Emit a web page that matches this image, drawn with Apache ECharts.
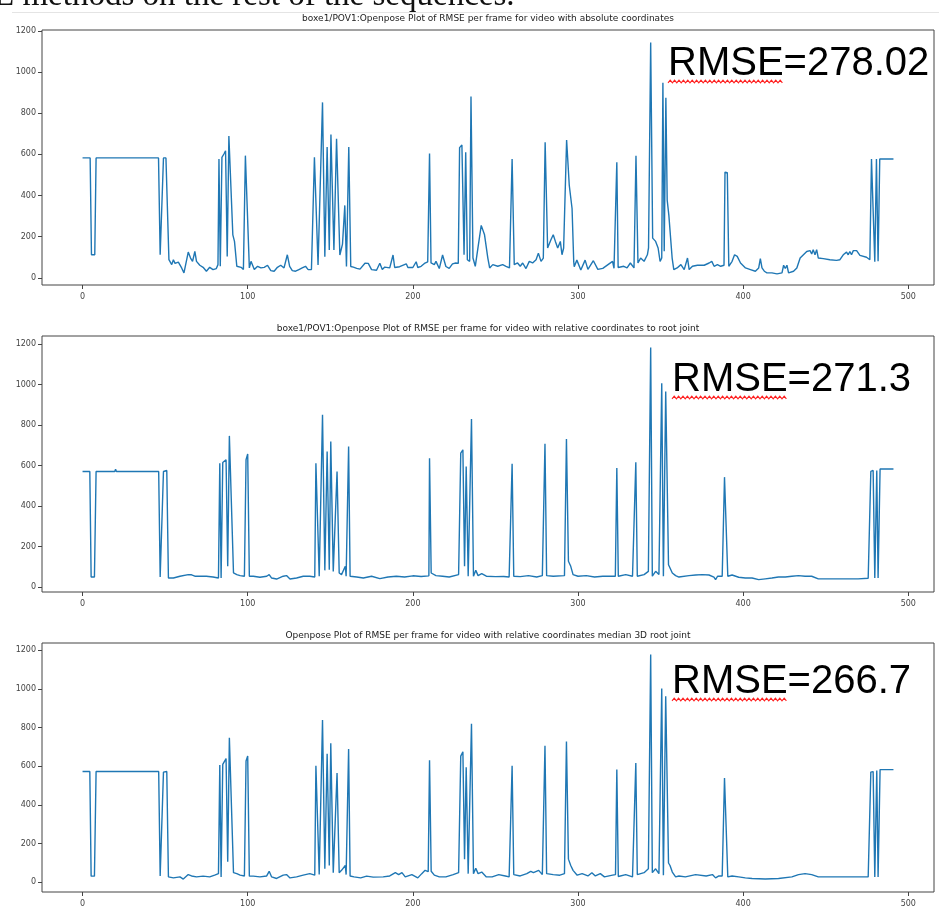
<!doctype html>
<html lang="en">
<head>
<meta charset="UTF-8">
<title>Openpose RMSE per frame</title>
<script src="https://cdn.jsdelivr.net/npm/echarts@6/dist/echarts.min.js"></script>
<style>
  html, body { margin: 0; padding: 0; background: #fff; }
  #main { width: 939px; height: 908px; }
</style>
</head>
<body>
<div id="main"></div>
<script>
// chart text
var titles = [
  'boxe1/POV1:Openpose Plot of RMSE per frame for video with absolute coordinates',
  'boxe1/POV1:Openpose Plot of RMSE per frame for video with relative coordinates to root joint',
  'Openpose Plot of RMSE per frame for video with relative coordinates median 3D root joint'
];
var rmseNotes = ['RMSE=278.02', 'RMSE=271.3', 'RMSE=266.7'];
var xTicks = [0, 100, 200, 300, 400, 500];
var yTicks = [0, 200, 400, 600, 800, 1000, 1200];

// [frame, rmse]
var absoluteRmse = [
  [0,583],[4.6,583],[5.4,112],[7.4,112],[8.2,583],[19,583],[20,587],[21,583],[46,583],[47,112],[48.2,112],[49,583],[50.5,583],[51.5,575],
  [52.3,88],[54,64],[55,88],[56,70],[58,76],[60,48],[61.4,24],[64,125],[65.4,96],[66.6,80],[68,128],[69,80],[71,61],[73,51],[75,32],[77,51],[79,40],[81,45],[82,64],
  [82.6,578],[83.4,56],[84.4,586],[85.6,602],[86.6,618],[87.6,104],[88.6,690],[89.8,688],[91,209],[92,177],[93.4,56],[94.6,48],[96,51],[97.4,40],[98.6,594],[99.8,602],
  [101,48],[102,80],[104,40],[106,56],[108,48],[110,51],[112,61],[114,35],[116,32],[118,51],[120,61],[122,48],[124,112],[125.4,56],[127,35],[129,32],[131,40],[133,48],[135,56],[136.6,40],[138.6,40],[139.6,48],
  [140.4,586],[141.6,590],[142.6,62],[143.4,60],[145.3,853],[146.7,103],[148.1,636],[149.4,135],[150.4,697],[152.2,135],[153.8,676],[155.8,111],[157.4,164],[158.8,352],[159.8,55],[161.2,636],[162.4,55],
  [164,52],[166,46],[168,42],[171,71],[173,70],[175,40],[178,37],[180,71],[181.5,40],[183,52],[186,48],[188,111],[189,50],[192,54],[196,68],[197,50],[200,50],[202,78],[203,50],[205,56],[207,70],[209,78],
  [210.1,604],[211,72],[213,64],[214,80],[216,45],[218,111],[220,55],[222,46],[224,68],[226,72],[227.5,70],[228.3,633],[229.7,646],[231,112],[232,610],[233,88],[234.4,80],[235.2,882],[236.4,96],[237.8,56],
  [239.5,150],[241.4,255],[243.4,209],[245.4,96],
  [246.5,48],[248.4,64],[251.4,56],[254.4,64],[256.4,56],[258.5,48],[259.4,50],[260.1,578],[261.4,64],[263.4,72],[265,56],[266.5,72],[268.5,45],[270.5,80],[272.5,72],[274.6,88],[276,120],[277.6,80],[279,96],
  [280.1,659],[281.6,145],[283.6,185],[285,209],[286.3,177],[287.7,145],[289.3,177],[290.3,112],[291.3,145],[292.3,137],[293.1,670],[294.7,450],[296.4,337],[297.4,80],
  [297.7,54],[299.3,86],[301.7,38],[304.3,86],[306,41],[309.3,83],[312,41],[315,46],[320.9,80],[321.8,46],[322.7,46],[323.5,562],[324.3,50],[325,48],[327.7,56],[329.7,48],[331.7,72],[333.9,48],[335.1,594],[336.3,72],
  [337.9,96],[340,80],[342,112],[342.7,145],[344,1144],[345.2,193],[347,177],[348.5,145],[349.7,80],[350.7,96],[351.4,948],[352.2,129],[353.2,875],[354,378],[355,305],[357,96],[358,40],
  [360,48],[362.3,64],[364.3,40],[366.3,96],[367.3,40],[369.3,56],[372.3,61],[376.4,61],[379.4,72],[381,80],[382.4,56],[384.4,64],[386.4,56],[388.4,61],[389,514],[390.4,511],[391.3,56],
  [393.3,80],[394.8,112],[396.4,104],[398.4,72],[401.4,48],[404.4,40],[407.4,32],[409.4,48],[410.4,93],[411.4,48],[412.8,32],[414.4,24],[417.4,24],[420.5,19],[423.5,24],[424.5,61],[425.5,45],[426.5,61],[427.5,24],
  [430.5,32],[432.5,48],[434.5,96],[436.5,112],[438.5,128],[440.5,132],[441.5,116],[442.4,137],[443.5,112],[444.5,137],[445.5,96],[448.5,93],[452.5,88],[456.5,85],[458.6,88],[460.6,112],[462.6,125],[463.6,112],
  [464.6,128],[465.6,112],[466.7,132],[468.7,132],[470.7,109],[474.7,100],[476.7,88],[477.7,578],[478.7,578],[479.7,78],[480.7,578],[481.7,80],[482.7,578],[491,578]
];

var relativeRmse = [
  [0,571],[4.4,571],[5.2,49],[7.2,49],[8.2,571],[19.5,571],[20,582],[20.5,571],[46.1,571],[47,49],[48,49],[49,571],[51,576],[52,44],[55,44],[59,53],[64,61],[66,60],[68,53],[71,53],[75,53],[79,49],[82.3,44],
  [83.1,612],[83.9,44],[84.9,615],[85.7,620],[86.9,629],[87.9,102],[88.9,747],[90.1,744],[91.4,69],[93.4,61],[95.4,56],[98,53],[99,629],[100,658],[101,53],[103.4,53],[107.4,48],[111.5,53],[113,61],[114.5,44],
  [117.5,39],[121.5,53],[123.5,56],[125.6,39],[129.6,44],[133.6,53],[137.6,53],[140.6,49],
  [141.3,612],[142.3,604],[143.3,53],[145.3,851],[146.7,82],[148.1,670],[149.4,85],[150.3,719],[151.8,77],[154.1,571],[155.4,69],[156.8,61],[159.1,102],[159.6,53],[161.1,695],[162,53],
  [166,49],[170,44],[175,53],[180,41],[185,49],[190,53],[195,49],[200,55],[205,52],[209.7,55],[210.1,637],[211.1,69],[214,56],[218,53],[222,49],[227.7,61],[228.4,58],[229,662],[230.3,678],[231.3,102],[232.3,596],[233.5,53],
  [235.5,830],[236.7,53],[238.1,82],[239.5,56],[241.7,66],[244.5,53],[250,51],[255,52],[258.3,49],[259.3,50],[260.1,609],[261.1,53],[265,51],[270,56],[275,49],[278.4,56],[279.2,55],[280,708],[281,56],[285,53],[291.8,56],
  [292.3,55],[293,731],[294.2,127],[295.6,102],[297,61],[300,53],[305,56],[310,49],[315,53],[320.7,53],[322.6,53],[323.5,588],[324.4,53],[325.5,53],[328.9,61],[333,53],[334.2,53],[335,617],[335.9,53],[336.6,53],
  [340,61],[342.6,77],[344,1184],[345,53],[347,77],[349,61],
  [350.7,1007],[351.7,53],[353.1,966],[354.8,110],[355.7,102],[357.1,69],[359.1,56],[361.1,49],[367.2,56],[371.2,59],[375.2,61],[379.3,59],[382.3,49],[383.3,36],[384.5,53],[387.3,53],[388,53],[388.7,543],[389.7,538],[390.7,53],
  [393.3,59],[397.3,48],[401.3,44],[405.4,44],[409.4,36],[413.4,40],[417.4,44],[421.4,49],[425.5,49],[429.5,53],[433.5,56],[437.5,53],[441.5,53],[445.5,40],[453.5,40],[461.6,40],[469.6,40],[475.7,43],[476.6,43],
  [477.3,571],[478.7,576],[479.7,44],[480.9,576],[481.7,44],[482.9,583],[491,583]
];

var medianRmse = [
  [0,573],[4.4,573],[5.2,32],[7.2,32],[8.2,573],[19.5,573],[20,582],[20.5,573],[46.1,573],[47,33],[48,33],[49,570],[51,573],[52,28],[55,23],[59,28],[61,17],[64,40],[66,33],[69,28],[73,32],[77,28],[80,37],[82.3,45],
  [83.1,607],[83.9,28],[84.9,610],[85.7,617],[86.9,640],[87.9,107],[88.9,748],[90.1,740],[91.4,50],[93.4,45],[95.4,37],[98,33],[99,628],[100,653],[101,32],[103.4,32],[107.4,28],[111.5,33],[113,57],[114.5,28],
  [117.5,20],[121.5,37],[123.5,40],[125.6,23],[129.6,28],[133.6,37],[137.6,45],[140.6,37],
  [141.3,603],[142.3,598],[143.3,40],[145.3,840],[146.7,70],[148.1,665],[149.4,87],[150.3,720],[151.8,50],[154.1,565],[155.4,50],[156.8,62],[159.1,87],[159.6,40],[161.1,690],[162,33],
  [164.4,28],[168.4,23],[172,32],[176,27],[182,28],[186,33],[189.4,50],[191.4,40],[193.4,50],[195.4,28],[199.4,40],[203,23],[205.4,45],[207.4,62],[209.3,55],[210.1,632],[211.1,57],[213,37],[216,28],[220,28],[224.4,40],[227.7,50],
  [228.3,50],[229,653],[230.3,675],[231.3,120],[232.3,595],[233.5,45],[235.5,820],[236.7,45],[238.1,73],[239.5,45],[241.7,53],[244.5,28],[248,28],[252,40],[256,33],[258.3,28],[259.3,30],[260.1,603],[261.1,40],[265,33],[269,45],[271.4,57],
  [273,50],[276.2,62],[278.4,40],[279.2,40],[280,707],[281,45],[285,40],[289,37],[291.8,45],[292.3,45],[293,728],[294.2,120],[295.6,87],[297,62],[299.5,37],[302.5,45],[306,33],[308.4,50],[310.5,33],[313.5,45],[316,28],[320.9,37],[321.8,40],
  [322.7,40],[323.5,583],[324.4,30],[325.5,28],[328.9,40],[333,28],[334.2,30],[335,617],[335.9,40],[336.6,40],[340,50],[342.6,70],[344,1178],[345,50],[347,70],[349,45],[350.7,1003],[351.7,37],[353.1,962],[354.8,100],[355.7,87],[357.1,53],[359.1,28],[361.1,33],
  [365,28],[371.2,40],[377.6,33],[381.4,40],[383.3,23],[385.3,33],[387.3,33],[388,33],[388.7,540],[389.7,533],[390.7,28],[393.3,33],[397.3,28],[401.3,23],[405.4,20],[413.4,17],[421.4,20],[429.5,28],[433.5,40],[437.5,45],
  [441.5,40],[445.5,28],[453.5,28],[461.6,28],[469.6,28],[475.7,28],[476.5,28],[477.3,570],[478.7,573],[479.7,28],[480.9,578],[481.7,28],[482.9,583],[491,583]
];

var seriesData = [absoluteRmse, relativeRmse, medianRmse];

// layout of the three panels (pixels / axis limits)
var panels = [
  { top: 30,  height: 255, yMin: -35, yMax: 1205, titleY: 19,  noteY: 64 },
  { top: 336, height: 256, yMin: -25, yMax: 1241, titleY: 329, noteY: 380 },
  { top: 643, height: 258, yMin: -50, yMax: 1238, titleY: 636, noteY: 682 }
];

var myChart = echarts.init(document.getElementById('main'));

var grids = [], xAxes = [], yAxes = [], series = [], graphics = [];
var tickFont = { fontSize: 8, color: '#444', fontFamily: 'DejaVu Sans', formatter: function (v) { return String(v); } };

panels.forEach(function (p, i) {
  grids.push({ left: 42, top: p.top, width: 892, height: p.height, show: true, borderColor: '#444', borderWidth: 1 });
  xAxes.push({
    gridIndex: i, type: 'value', min: -24.55, max: 515.55,
    axisLine: { show: false, onZero: false },
    axisTick: { show: true, length: 4, lineStyle: { color: '#444' }, customValues: xTicks },
    axisLabel: Object.assign({ margin: 8, customValues: xTicks }, tickFont),
    splitLine: { show: false }
  });
  yAxes.push({
    gridIndex: i, type: 'value', min: p.yMin, max: p.yMax,
    axisLine: { show: false, onZero: false },
    axisTick: { show: true, length: 4, lineStyle: { color: '#444' }, customValues: yTicks },
    axisLabel: Object.assign({ margin: 6, customValues: yTicks }, tickFont),
    splitLine: { show: false }
  });
  series.push({
    type: 'line', xAxisIndex: i, yAxisIndex: i, data: seriesData[i],
    showSymbol: false, symbol: 'none',
    lineStyle: { width: 1.4, color: '#1f77b4' },
    itemStyle: { color: '#1f77b4' }
  });

  graphics.push({
    type: 'text', x: 488, y: p.titleY,
    style: { text: titles[i], fill: '#222', font: '9px "DejaVu Sans"', align: 'center', verticalAlign: 'middle' }
  });
  var noteX = i === 0 ? 668 : 672;
  graphics.push({
    type: 'text', x: noteX, y: p.noteY, z: 10,
    style: { text: rmseNotes[i], fill: '#000', font: '40px "Liberation Sans"', align: 'left', verticalAlign: 'middle' }
  });
  // red spell-check squiggle under "RMSE"
  var pts = [], sy = p.noteY + 17.5;
  for (var k = 0, x = noteX; x <= noteX + 116; k++, x += 2.2) {
    pts.push([x, sy + (k % 2 ? -1.3 : 1.3)]);
  }
  graphics.push({
    type: 'polyline', z: 10, shape: { points: pts },
    style: { stroke: '#ff2020', lineWidth: 1.1, fill: null }
  });
});

// edge of the figure image and the cut-off line of document text above it
graphics.push({
  type: 'line', shape: { x1: 12, y1: 12.5, x2: 939, y2: 12.5 },
  style: { stroke: '#e4e4e4', lineWidth: 1 }
});
graphics.push({
  type: 'text', x: -6, y: -3.5,
  style: { text: 'E methods on the rest of the sequences.', fill: '#111', font: '33px "Liberation Serif"', align: 'left', verticalAlign: 'middle' }
});

option = {
  backgroundColor: '#fff',
  animation: false,
  grid: grids,
  xAxis: xAxes,
  yAxis: yAxes,
  series: series,
  graphic: graphics
};
myChart.setOption(option);
</script>
</body>
</html>
